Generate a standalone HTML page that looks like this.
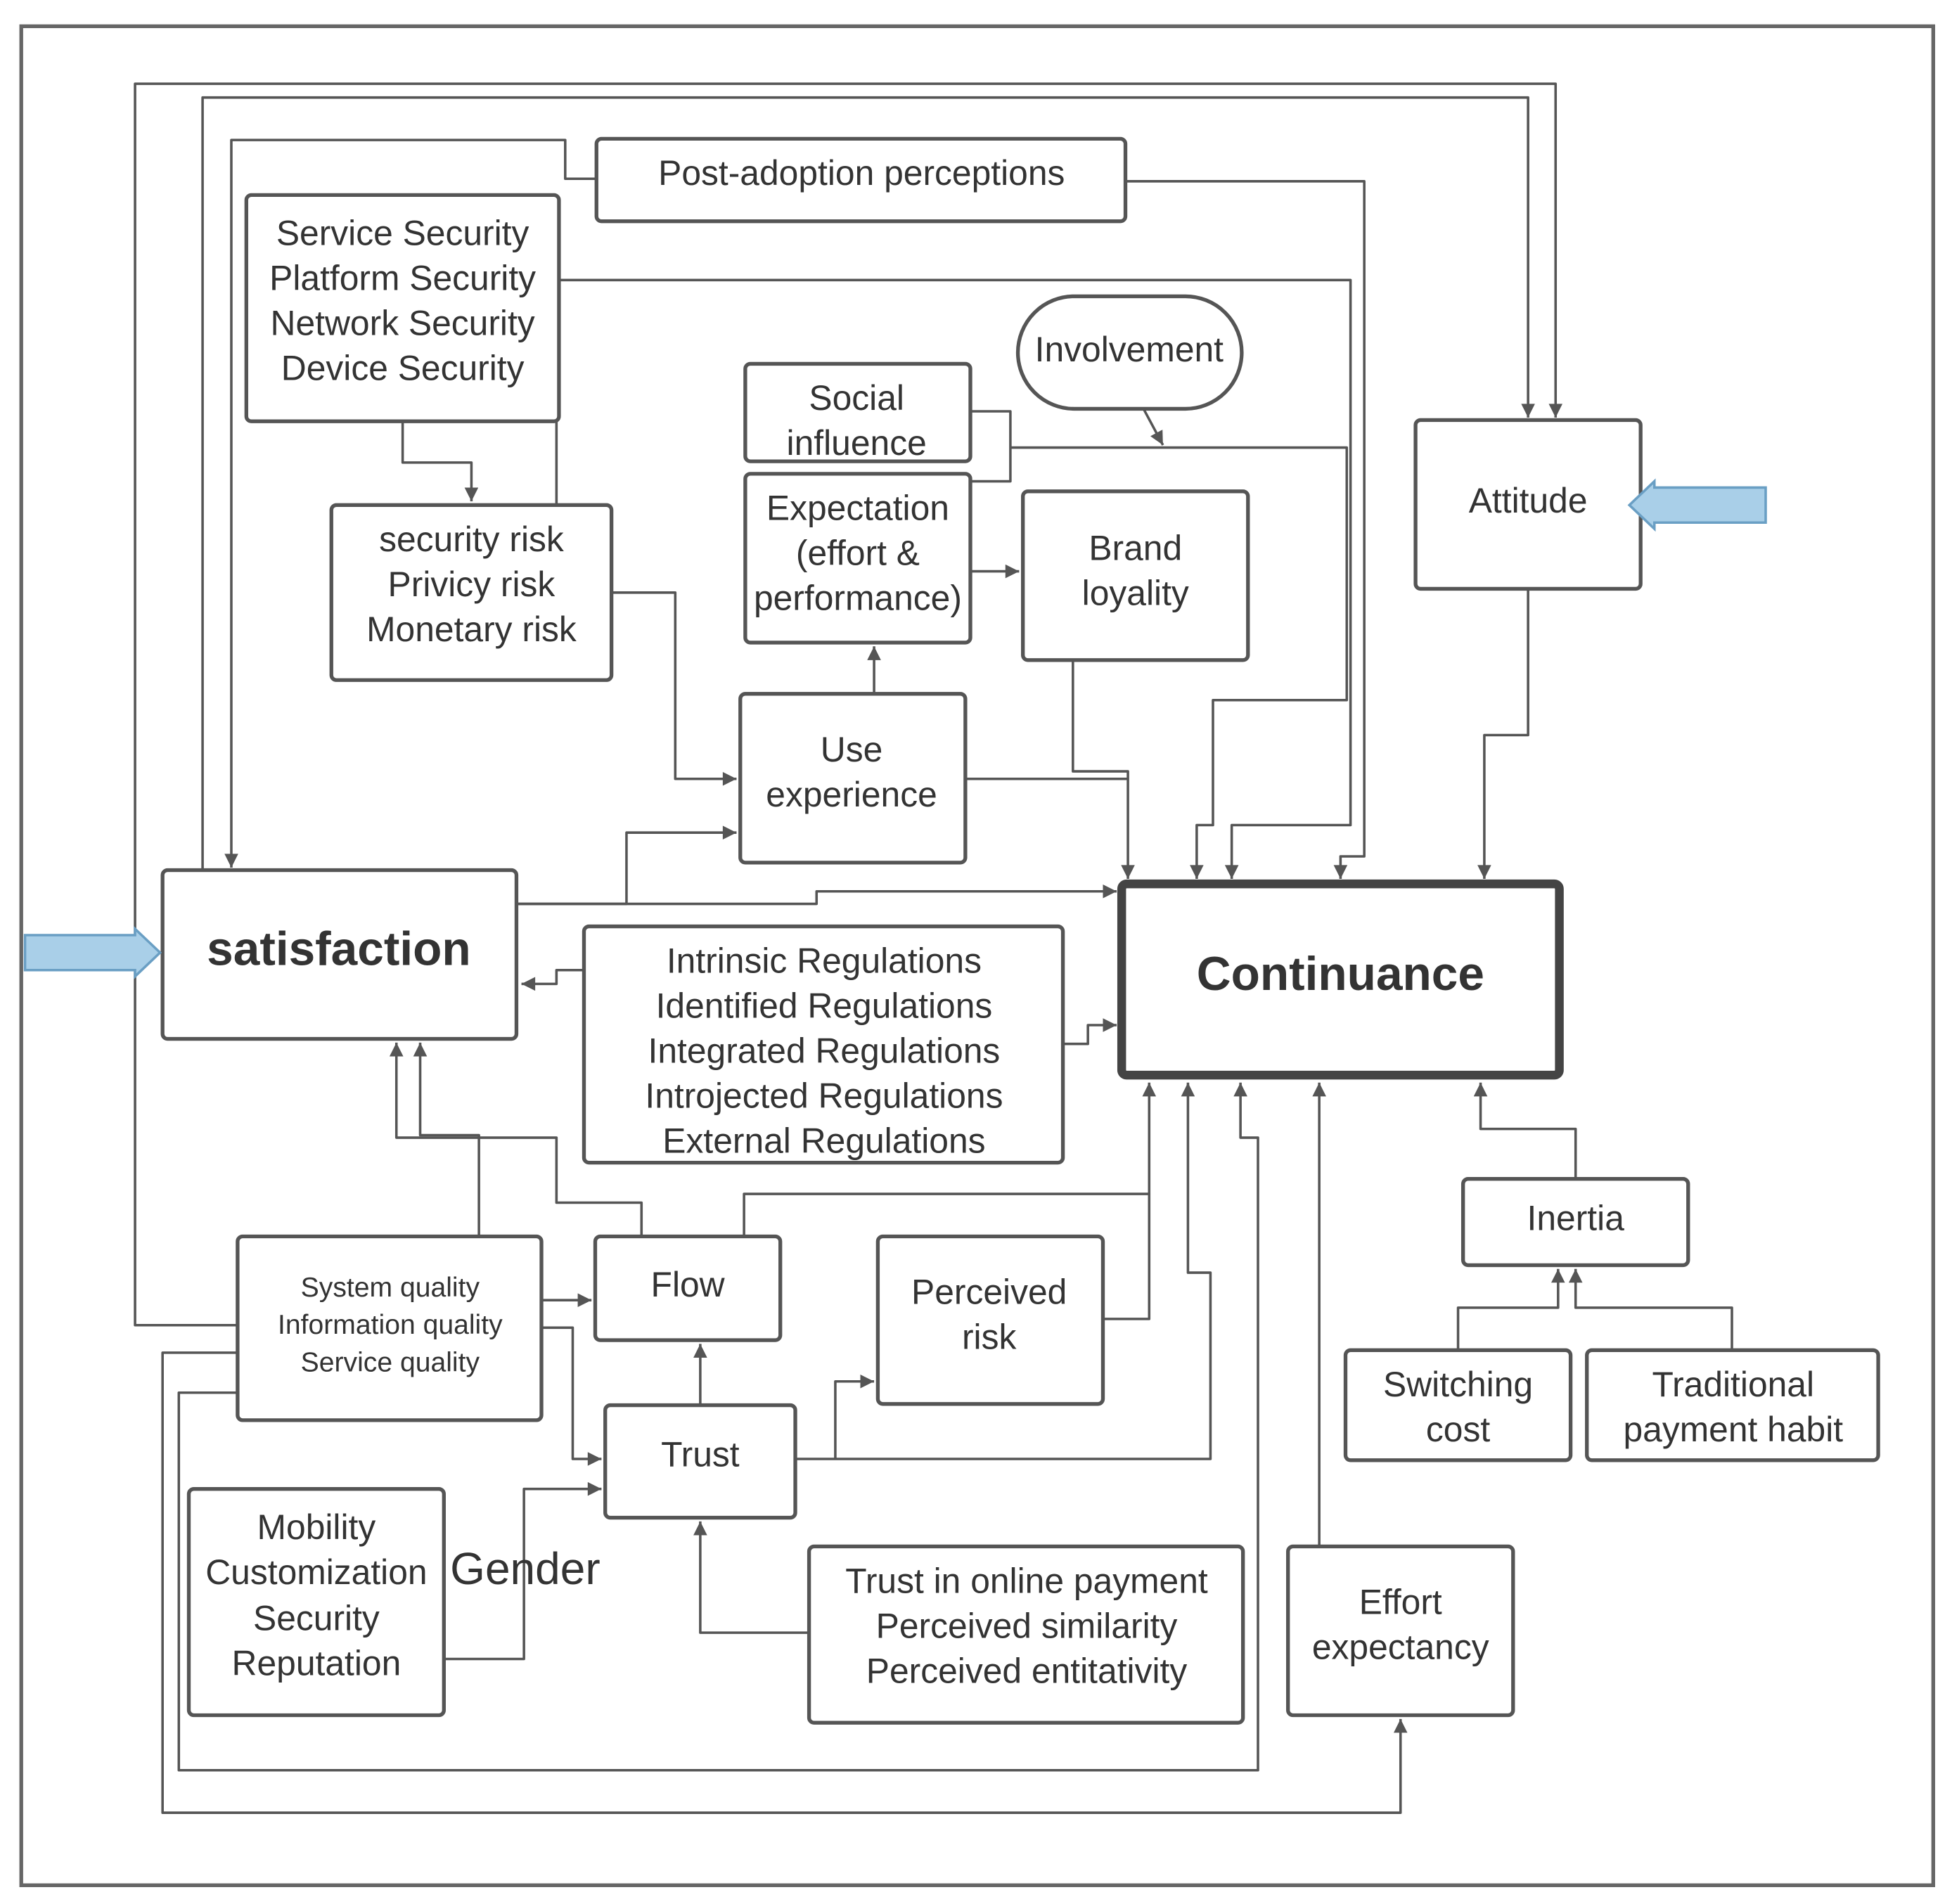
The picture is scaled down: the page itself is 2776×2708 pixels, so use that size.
<!DOCTYPE html>
<html><head><meta charset="utf-8"><style>
html,body{margin:0;padding:0;background:#fff;}
svg{display:block;}
text{font-family:"Liberation Sans",sans-serif;fill:#333;text-anchor:middle;}
</style></head><body>
<svg width="2776" height="2708" viewBox="0 0 1561 1523" preserveAspectRatio="none" xmlns="http://www.w3.org/2000/svg">
<defs>
<marker id="a" viewBox="0 0 10 10" refX="10" refY="5" markerWidth="13" markerHeight="11" markerUnits="userSpaceOnUse" orient="auto"><path d="M0,0 L10,5 L0,10 z" fill="#555"/></marker>
</defs>
<rect x="17" y="21" width="1529" height="1487" fill="none" stroke="#666" stroke-width="3"/>
<g fill="none" stroke="#555" stroke-width="2" stroke-linejoin="round">
<polyline points="162,696 162,78 1222,78 1222,334" marker-end="url(#a)"/>
<polyline points="190,1060 108,1060 108,67 1244,67 1244,334" marker-end="url(#a)"/>
<polyline points="477,143 452,143 452,112 185,112 185,694" marker-end="url(#a)"/>
<polyline points="900,145 1091,145 1091,685 1072,685 1072,703" marker-end="url(#a)"/>
<polyline points="445,403 445,224 1080,224 1080,660 985,660 985,703" marker-end="url(#a)"/>
<polyline points="322,337 322,370 377,370 377,401" marker-end="url(#a)"/>
<polyline points="776,329 808,329 808,385 776,385"/>
<polyline points="808,358 1077,358 1077,560 970,560 970,660 957,660 957,703" marker-end="url(#a)"/>
<polyline points="915,328 930,356" marker-end="url(#a)"/>
<polyline points="776,457 815,457" marker-end="url(#a)"/>
<polyline points="699,555 699,517" marker-end="url(#a)"/>
<polyline points="858,528 858,617 902,617 902,703" marker-end="url(#a)"/>
<polyline points="772,623 902,623"/>
<polyline points="489,474 540,474 540,623 589,623" marker-end="url(#a)"/>
<polyline points="413,723 501,723 501,666 589,666" marker-end="url(#a)"/>
<polyline points="413,723 653,723 653,713 893,713" marker-end="url(#a)"/>
<polyline points="467,776 445,776 445,787 417,787" marker-end="url(#a)"/>
<polyline points="850,835 870,835 870,820 893,820" marker-end="url(#a)"/>
<polyline points="383,989 383,908 336,908 336,834" marker-end="url(#a)"/>
<polyline points="513,989 513,962 445,962 445,910 317,910 317,834" marker-end="url(#a)"/>
<polyline points="595,989 595,955 919,955 919,866" marker-end="url(#a)"/>
<polyline points="882,1055 919,1055 919,955"/>
<polyline points="636,1167 968,1167 968,1018 950,1018 950,866" marker-end="url(#a)"/>
<polyline points="668,1167 668,1105 699,1105" marker-end="url(#a)"/>
<polyline points="433,1040 473,1040" marker-end="url(#a)"/>
<polyline points="433,1062 458,1062 458,1167 481,1167" marker-end="url(#a)"/>
<polyline points="560,1124 560,1075" marker-end="url(#a)"/>
<polyline points="355,1327 419,1327 419,1191 481,1191" marker-end="url(#a)"/>
<polyline points="647,1306 560,1306 560,1217" marker-end="url(#a)"/>
<polyline points="190,1114 143,1114 143,1416 1006,1416 1006,910 992,910 992,866" marker-end="url(#a)"/>
<polyline points="190,1082 130,1082 130,1450 1120,1450 1120,1375" marker-end="url(#a)"/>
<polyline points="1055,1237 1055,866" marker-end="url(#a)"/>
<polyline points="1260,943 1260,903 1184,903 1184,866" marker-end="url(#a)"/>
<polyline points="1166,1080 1166,1046 1246,1046 1246,1015" marker-end="url(#a)"/>
<polyline points="1385,1080 1385,1046 1260,1046 1260,1015" marker-end="url(#a)"/>
<polyline points="1222,471 1222,588 1187,588 1187,703" marker-end="url(#a)"/>
</g>
<g fill="#fff" stroke="#555" stroke-width="3">
<rect x="477" y="111" width="423" height="66" rx="4"/>
<rect x="197" y="156" width="250" height="181" rx="4"/>
<rect x="814" y="237" width="179" height="90" rx="45"/>
<rect x="596" y="291" width="180" height="78" rx="4"/>
<rect x="596" y="379" width="180" height="135" rx="4"/>
<rect x="818" y="393" width="180" height="135" rx="4"/>
<rect x="1132" y="336" width="180" height="135" rx="4"/>
<rect x="265" y="404" width="224" height="140" rx="4"/>
<rect x="592" y="555" width="180" height="135" rx="4"/>
<rect x="130" y="696" width="283" height="135" rx="4"/>
<rect x="467" y="741" width="383" height="189" rx="4"/>
<rect x="1170" y="943" width="180" height="69" rx="4"/>
<rect x="190" y="989" width="243" height="147" rx="4"/>
<rect x="476" y="989" width="148" height="83" rx="4"/>
<rect x="702" y="989" width="180" height="134" rx="4"/>
<rect x="1076" y="1080" width="180" height="88" rx="4"/>
<rect x="1269" y="1080" width="233" height="88" rx="4"/>
<rect x="484" y="1124" width="152" height="90" rx="4"/>
<rect x="151" y="1191" width="204" height="181" rx="4"/>
<rect x="647" y="1237" width="347" height="141" rx="4"/>
<rect x="1030" y="1237" width="180" height="135" rx="4"/>
</g>
<rect x="897" y="707" width="350" height="153" rx="4" fill="#fff" stroke="#444" stroke-width="7"/>
<path d="M20,748 L108,748 L108,743 L128,762 L108,781 L108,776 L20,776 z" fill="#a9cfe8" stroke="#6a9fc4" stroke-width="2"/>
<path d="M1412,390 L1323,390 L1323,385 L1303,404 L1323,423 L1323,418 L1412,418 z" fill="#a9cfe8" stroke="#6a9fc4" stroke-width="2"/>
<g font-size="28">
<text x="689" y="148">Post-adoption perceptions</text>
<text x="322" y="196">Service Security</text>
<text x="322" y="232">Platform Security</text>
<text x="322" y="268">Network Security</text>
<text x="322" y="304">Device Security</text>
<text x="903" y="289">Involvement</text>
<text x="685" y="328">Social</text>
<text x="685" y="364">influence</text>
<text x="686" y="416" fill="#111">Expectation</text>
<text x="686" y="452" fill="#111">(effort &amp;</text>
<text x="686" y="488" fill="#111">performance)</text>
<text x="908" y="448" fill="#111">Brand</text>
<text x="908" y="484" fill="#111">loyality</text>
<text x="1222" y="410">Attitude</text>
<text x="377" y="441" fill="#111">security risk</text>
<text x="377" y="477" fill="#111">Privicy risk</text>
<text x="377" y="513" fill="#111">Monetary risk</text>
<text x="681" y="609" fill="#111">Use</text>
<text x="681" y="645" fill="#111">experience</text>
<text x="659" y="778">Intrinsic Regulations</text>
<text x="659" y="814">Identified Regulations</text>
<text x="659" y="850">Integrated Regulations</text>
<text x="659" y="886">Introjected Regulations</text>
<text x="659" y="922">External Regulations</text>
<text x="1260" y="984">Inertia</text>
<text x="550" y="1037">Flow</text>
<text x="791" y="1043">Perceived</text>
<text x="791" y="1079">risk</text>
<text x="1166" y="1117">Switching</text>
<text x="1166" y="1153">cost</text>
<text x="1386" y="1117">Traditional</text>
<text x="1386" y="1153">payment habit</text>
<text x="560" y="1173">Trust</text>
<text x="253" y="1231">Mobility</text>
<text x="253" y="1267">Customization</text>
<text x="253" y="1304">Security</text>
<text x="253" y="1340">Reputation</text>
<text x="821" y="1274">Trust in online payment</text>
<text x="821" y="1310">Perceived similarity</text>
<text x="821" y="1346">Perceived entitativity</text>
<text x="1120" y="1291">Effort</text>
<text x="1120" y="1327">expectancy</text>
</g>
<g font-size="22">
<text x="312" y="1037">System quality</text>
<text x="312" y="1067">Information  quality</text>
<text x="312" y="1097">Service quality</text>
</g>
<text x="420" y="1267" font-size="36">Gender</text>
<text x="271" y="772" font-size="38" font-weight="bold" fill="#000">satisfaction</text>
<text x="1072" y="792" font-size="38" font-weight="bold" fill="#000">Continuance</text>
</svg>
</body></html>
